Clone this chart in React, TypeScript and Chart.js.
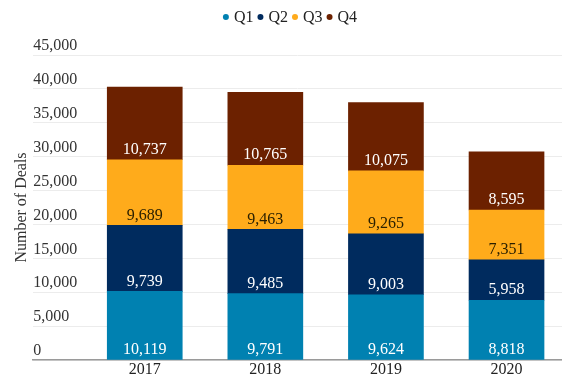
import React, { useEffect, useRef } from "react";
import { Chart, registerables } from "chart.js";

Chart.register(...registerables);

const years = ["2017", "2018", "2019", "2020"];
const q1 = [10119, 9791, 9624, 8818];
const q2 = [9739, 9485, 9003, 5958];
const q3 = [9689, 9463, 9265, 7351];
const q4 = [10737, 10765, 10075, 8595];

const quarterNames = ["Q1", "Q2", "Q3", "Q4"];
const quarterColors = ["#0081B1", "#002B5E", "#FFAB1B", "#6C2100"];
const labelColors = ["#ffffff", "#ffffff", "#2b2000", "#ffffff"];

const yTicks = [0, 5000, 10000, 15000, 20000, 25000, 30000, 35000, 40000, 45000];

const SERIF = '"Liberation Serif", "Times New Roman", Times, serif';

// Writes each segment's value just above the segment's base.
const segmentLabels = {
  id: "segmentLabels",
  afterDatasetsDraw(chart: any) {
    const ctx = chart.ctx;
    ctx.save();
    ctx.font = `16px ${SERIF}`;
    ctx.textAlign = "center";
    ctx.textBaseline = "middle";
    chart.data.datasets.forEach((ds: any, di: number) => {
      const meta = chart.getDatasetMeta(di);
      meta.data.forEach((bar: any, i: number) => {
        const v = ds.data[i].y;
        ctx.fillStyle = labelColors[di];
        ctx.fillText(v.toLocaleString("en-US"), bar.x, bar.base - 10);
      });
    });
    ctx.restore();
  },
};

// Compact legend row: small dot followed by the series name.
const compactLegend = {
  id: "compactLegend",
  afterDraw(chart: any) {
    const ctx = chart.ctx;
    ctx.save();
    ctx.font = `16px ${SERIF}`;
    ctx.textBaseline = "middle";
    ctx.textAlign = "left";
    const r = 3;
    const dotToText = 5;
    const itemGap = 4;
    const widths = chart.data.datasets.map((ds: any) => ctx.measureText(ds.label).width);
    const total =
      widths.reduce((a: number, w: number) => a + 2 * r + dotToText + w, 0) +
      itemGap * (widths.length - 1);
    let x = 290 - total / 2;
    const y = 17;
    chart.data.datasets.forEach((ds: any, i: number) => {
      ctx.fillStyle = ds.backgroundColor;
      ctx.beginPath();
      ctx.arc(x + r, y, r, 0, Math.PI * 2);
      ctx.fill();
      x += 2 * r + dotToText;
      ctx.fillStyle = "#222";
      ctx.fillText(ds.label, x, y + 1);
      x += widths[i] + itemGap;
    });
    ctx.restore();
  },
};

export default function App() {
  const canvasRef = useRef<HTMLCanvasElement>(null);

  useEffect(() => {
    document.body.style.margin = "0";
    let chart: Chart | null = null;
    let cancelled = false;
    const build = () => {
      if (cancelled || !canvasRef.current) return;
      const series = [q1, q2, q3, q4];
      chart = new Chart(canvasRef.current, {
        type: "bar",
        data: {
          datasets: series.map((vals, si) => ({
            label: quarterNames[si],
            data: vals.map((v, i) => ({ x: i, y: v })),
            backgroundColor: quarterColors[si],
            borderColor: quarterColors[si],
            borderWidth: 0,
            barThickness: 75,
          })),
        },
        options: {
          animation: false,
          responsive: false,
          maintainAspectRatio: false,
          layout: { padding: { left: 6, right: 0, top: 55, bottom: 0 } },
          plugins: {
            legend: { display: false },
            tooltip: { enabled: false },
          },
          scales: {
            x: {
              type: "linear",
              stacked: true,
              offset: false,
              min: -0.925,
              max: 3.46,
              grid: { display: false, drawTicks: false },
              border: { display: true, color: "#9a9a9a", width: 1.5 },
              afterBuildTicks: (axis: any) => {
                axis.ticks = years.map((_, i) => ({ value: i }));
              },
              afterFit: (axis: any) => {
                axis.height = 18;
              },
              ticks: {
                padding: 2,
                color: "#222",
                font: { family: SERIF, size: 16, lineHeight: 1 },
                callback: (v: any) => years[v] ?? "",
              },
            },
            y: {
              stacked: true,
              min: 0,
              max: 45000,
              grid: { color: "#ececec", drawTicks: false },
              border: { display: false },
              afterBuildTicks: (axis: any) => {
                axis.ticks = yTicks.map((v) => ({ value: v }));
              },
              ticks: {
                mirror: true,
                padding: 0,
                labelOffset: -9,
                color: "#333",
                font: { family: SERIF, size: 16 },
                callback: (v: any) => Number(v).toLocaleString("en-US"),
              },
              title: {
                display: true,
                text: "Number of Deals",
                color: "#333",
                font: { family: SERIF, size: 16 },
                padding: { top: 6, bottom: 2 },
              },
            },
          },
        },
        plugins: [segmentLabels, compactLegend],
      });
    };
    const fonts = (document as any).fonts;
    if (fonts && fonts.load) {
      fonts.load('16px "Liberation Serif"').then(build, build);
    } else {
      build();
    }
    return () => {
      cancelled = true;
      if (chart) chart.destroy();
    };
  }, []);

  return (
    <div style={{ width: 562, height: 378, background: "#fff" }}>
      <canvas ref={canvasRef} width={562} height={378} style={{ display: "block" }} />
    </div>
  );
}
